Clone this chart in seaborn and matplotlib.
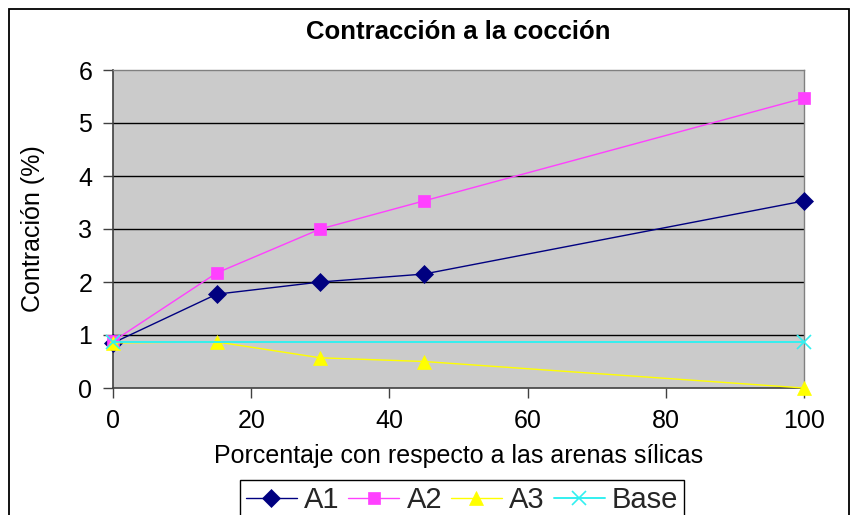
import matplotlib
matplotlib.use("Agg")
import matplotlib.pyplot as plt
import seaborn as sns
import pandas as pd
from matplotlib.patches import Rectangle

# Shrinkage after firing vs. percentage of silica sand
porcentaje = [0, 15, 30, 45, 100]
a1 = [0.85, 1.77, 2.00, 2.15, 3.53]
a2 = [0.88, 2.17, 3.00, 3.53, 5.47]
a3 = [0.85, 0.87, 0.57, 0.50, 0.00]
base_x = [0, 100]
base = [0.87, 0.87]

series = [
    ("A1", porcentaje, a1, "#000080", "D", 9),
    ("A2", porcentaje, a2, "#FF40FF", "s", 8),
    ("A3", porcentaje, a3, "#FFFF00", "^", 10),
    ("Base", base_x, base, "#33F0F0", "x", 10),
]

sns.set_theme(style="white")
plt.rcParams["font.family"] = ["Liberation Sans", "DejaVu Sans"]

W, H = 855, 515
fig = plt.figure(figsize=(W / 100, H / 100), dpi=100)
ax = fig.add_axes([113 / W, 1 - 388 / H, (804 - 113) / W, (388 - 70) / H])
ax.set_facecolor("#CBCBCB")

for name, xs, ys, color, marker, ms in series:
    df = pd.DataFrame({"x": xs, "y": ys})
    sns.lineplot(data=df, x="x", y="y", ax=ax, color=color, marker=marker,
                 markersize=ms, linewidth=1.4 if name == "Base" else 1.0,
                 markeredgecolor=color, markeredgewidth=1.2 if marker == "x" else 0.5,
                 label=name, legend=False, zorder=3, clip_on=False)

ax.set_xlim(0, 100)
ax.set_ylim(0, 6)
ax.set_xticks([0, 20, 40, 60, 80, 100])
ax.set_yticks(range(0, 7))
for yv in range(1, 6):
    ax.axhline(yv, color="black", linewidth=1.0, zorder=1)

for side in ("top", "right"):
    ax.spines[side].set_color("#808080")
    ax.spines[side].set_linewidth(1.0)
for side in ("left", "bottom"):
    ax.spines[side].set_color("#404040")
    ax.spines[side].set_linewidth(1.2)

ax.tick_params(axis="both", which="major", direction="out", length=7, width=1.0,
               color="#404040", labelsize=18, labelcolor="black",
               bottom=True, left=True)
ax.tick_params(axis="x", pad=8)
ax.tick_params(axis="y", pad=8)

ax.set_xlabel("Porcentaje con respecto a las arenas sílicas", fontsize=18,
              color="black", labelpad=8)
ax.set_ylabel("Contración (%)", fontsize=18, color="black", labelpad=24)
ax.set_title("Contracción a la cocción", fontsize=18.5, fontweight="bold",
             color="black", pad=22)

handles, labels = ax.get_legend_handles_labels()
leg = fig.legend(handles, labels, loc="upper center",
                 bbox_to_anchor=(462 / W, 1 - 480 / H), ncol=4, fontsize=21,
                 frameon=True, fancybox=False, framealpha=1,
                 edgecolor="black", handlelength=1.75, handletextpad=0.25,
                 columnspacing=0.3, borderpad=0.2, borderaxespad=0)
leg.get_frame().set_linewidth(1.0)

# chart area border
fig.patches.append(Rectangle((9 / W, -0.05), (849 - 9) / W, 1 - 9 / H + 0.05,
                             transform=fig.transFigure, fill=False,
                             edgecolor="black", linewidth=1.3, zorder=0))

fig.savefig("out.png", dpi=100, facecolor="white")
